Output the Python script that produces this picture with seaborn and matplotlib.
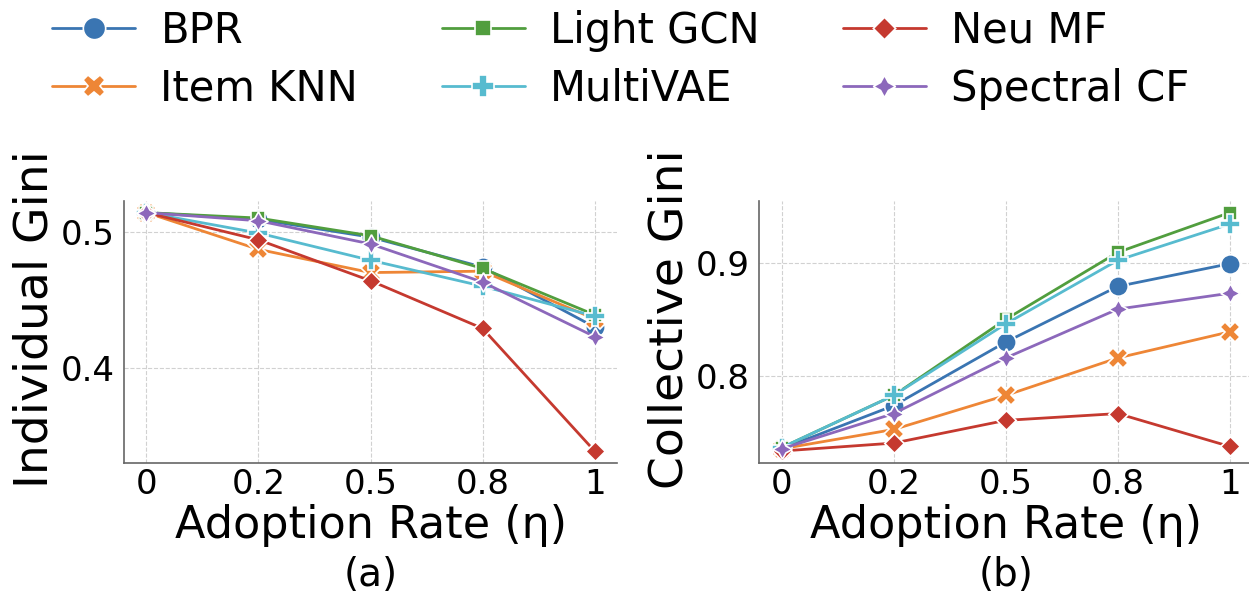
import matplotlib
matplotlib.use("Agg")
import matplotlib.pyplot as plt
import numpy as np
import pandas as pd
import seaborn as sns

# Models and adoption rates
models = ["BPR", "Item KNN", "Light GCN", "MultiVAE", "Neu MF", "Spectral CF"]
adoption_rates = ["0", "0.2", "0.5", "0.8", "1"]

# Individual Gini per model
indiv_bpr = [0.514, 0.509, 0.496, 0.474, 0.430]
indiv_itemknn = [0.514, 0.487, 0.470, 0.471, 0.436]
indiv_lightgcn = [0.514, 0.510, 0.497, 0.473, 0.439]
indiv_multivae = [0.514, 0.499, 0.479, 0.460, 0.438]
indiv_neumf = [0.514, 0.494, 0.464, 0.429, 0.339]
indiv_spectralcf = [0.514, 0.508, 0.491, 0.463, 0.423]

# Collective Gini per model
coll_bpr = [0.736, 0.774, 0.830, 0.879, 0.899]
coll_itemknn = [0.736, 0.753, 0.783, 0.816, 0.839]
coll_lightgcn = [0.737, 0.783, 0.850, 0.909, 0.944]
coll_multivae = [0.737, 0.783, 0.846, 0.902, 0.934]
coll_neumf = [0.734, 0.741, 0.761, 0.767, 0.738]
coll_spectralcf = [0.736, 0.767, 0.816, 0.859, 0.873]

colors = ["#3A75B2", "#EE8636", "#519E3E", "#57BBCF", "#C5392F", "#8C68BB"]

indiv_series = [indiv_bpr, indiv_itemknn, indiv_lightgcn, indiv_multivae, indiv_neumf, indiv_spectralcf]
coll_series = [coll_bpr, coll_itemknn, coll_lightgcn, coll_multivae, coll_neumf, coll_spectralcf]


def long_frame(series):
    rows = []
    for name, vals in zip(models, series):
        for i, v in enumerate(vals):
            rows.append({"pos": i, "model": name, "value": v})
    return pd.DataFrame(rows)


sns.set_theme(style="white")
plt.rcParams["font.family"] = ["DejaVu Sans"]
plt.rcParams["text.color"] = "black"
plt.rcParams["axes.labelcolor"] = "black"
plt.rcParams["xtick.color"] = "black"
plt.rcParams["ytick.color"] = "black"

fig = plt.figure(figsize=(12.49, 5.92), dpi=100)
ax1 = fig.add_axes([0.0993, 0.218, 0.3947, 0.443])
ax2 = fig.add_axes([0.6079, 0.218, 0.3947, 0.443])

markers = ["o", "X", (4, 0, 45), "P", (4, 0, 0), (4, 1, 0)]

for ax, series, ylabel, tag in [
    (ax1, indiv_series, "Individual Gini", "(a)"),
    (ax2, coll_series, "Collective Gini", "(b)"),
]:
    df = long_frame(series)
    sns.lineplot(
        data=df, x="pos", y="value", hue="model", style="model",
        hue_order=models, style_order=models, palette=colors,
        markers=markers, dashes=False, markersize=14, linewidth=2.0,
        markeredgecolor="white", markeredgewidth=1.2, ax=ax,
    )
    ax.set_xticks(range(len(adoption_rates)))
    ax.set_xticklabels(adoption_rates)
    ax.tick_params(axis="both", labelsize=24.5, length=3, width=1, color="0.4", pad=4)
    ax.tick_params(axis="x", length=0)
    ax.set_xlabel("Adoption Rate (η)", fontsize=32, labelpad=2)
    ax.set_ylabel(ylabel, fontsize=34)
    ax.yaxis.set_label_coords(-0.135, 0.55)
    ax.grid(True, linestyle="--", linewidth=0.8, color="0.82")
    for side in ["top", "right"]:
        ax.spines[side].set_visible(False)
    for side in ["left", "bottom"]:
        ax.spines[side].set_color("0.4")
        ax.spines[side].set_linewidth(1.2)
    ax.get_legend().remove()
    bb = ax.get_position()
    fig.text((bb.x0 + bb.x1) / 2, 0.028, tag, ha="center", va="center", fontsize=28)

ax2.set_yticks([0.8, 0.9])
ax1.set_yticks([0.4, 0.5])

handles, labels = ax1.get_legend_handles_labels()
fig.legend(
    handles, labels, loc="upper center", bbox_to_anchor=(0.497, 1.047), ncol=3,
    fontsize=30, frameon=False, handlelength=2.0, handletextpad=0.6,
    columnspacing=2.0, labelspacing=0.38, markerscale=1.15,
)

fig.savefig("out.png", dpi=100)
